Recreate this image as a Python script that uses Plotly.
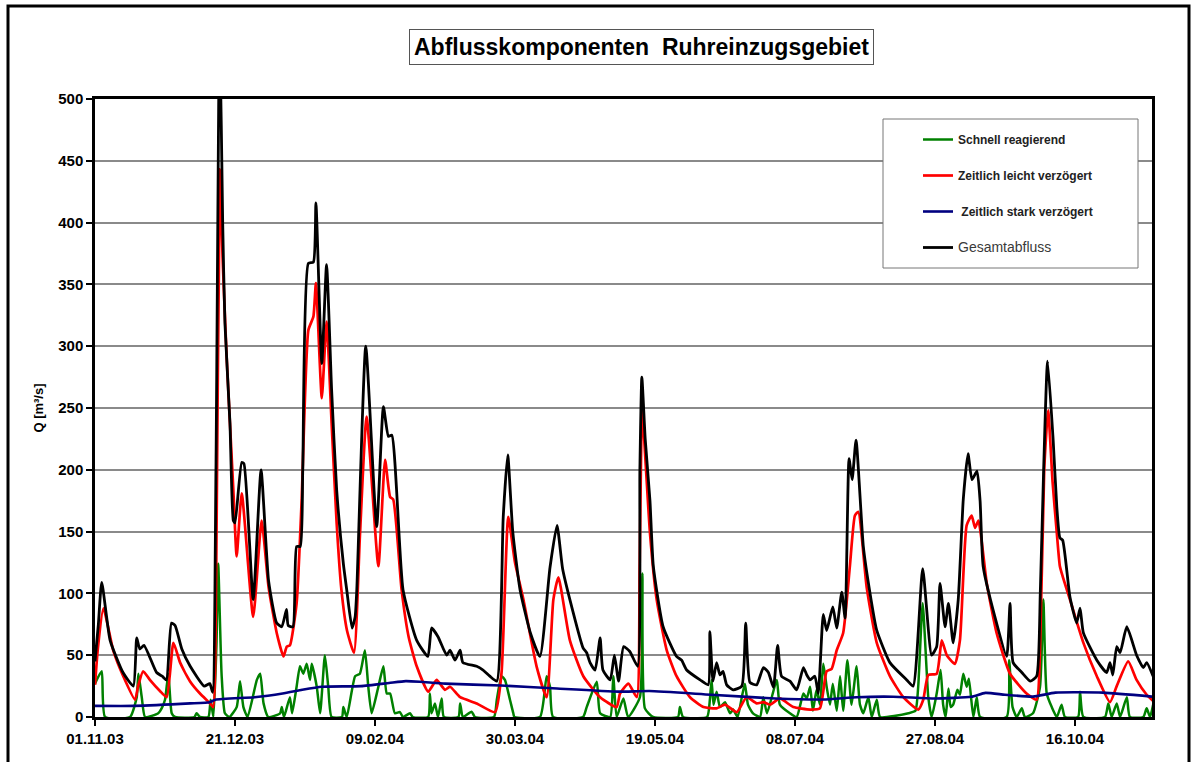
import pandas as pd
import plotly.graph_objects as go

# ---------------- data ----------------
start_date = "2003-11-01"
x_tick_labels = ["01.11.03", "21.12.03", "09.02.04", "30.03.04",
                 "19.05.04", "08.07.04", "27.08.04", "16.10.04"]
x_end_day = 377.5
y_tick_values = [0, 50, 100, 150, 200, 250, 300, 350, 400, 450, 500]

series_names = ["<b>Schnell reagierend</b>", "<b>Zeitlich leicht verzögert</b>",
                "<b> Zeitlich stark verzögert</b>",
                "<span style='font-size:14px;color:#3a3a3a'>Gesamtabfluss</span>"]

green_day = [0, 2.4, 3.6, 12.5, 14.9, 15.5, 16.7, 17.9, 22.6, 23.8, 25, 26.2, 27.4, 28.6, 35.5, 36.3, 37.5,
             40.5, 41.3, 42.3, 43.4, 44, 45.2, 46.4, 48, 50.6, 51.8, 53, 54.5, 57.8, 59, 60.2, 61.9, 66.1,
             66.7, 67.5, 69.6, 70.4, 72, 73.2, 74.4, 75.6, 76.8, 77.4, 79.2, 80.4, 82.1, 83.3, 84.5, 88.2,
             88.7, 89.9, 92.9, 94.6, 96.4, 97.6, 98.8, 101.2, 103, 104.2, 105.4, 107.1, 108.9, 110, 112.5,
             113.5, 119, 119.6, 120.2, 121.4, 122.5, 123.8, 124.6, 129.8, 130.4, 131.4, 134.5, 135.7, 142.5,
             143.5, 145.2, 146.4, 148.2, 149.4, 149.8, 158.9, 161.3, 162.5, 163.6, 174.3, 175.6, 179.2, 180.4,
             184, 185.1, 186.3, 188.7, 190.4, 194.6, 195.5, 196.4, 199.3, 208.2, 208.9, 210, 218.6, 219.6,
             220.2, 220.9, 222, 223.2, 225, 226.8, 227.9, 229.5, 231, 232.1, 233.2, 235, 237.5, 238.7, 240,
             243.5, 244.6, 248.2, 250.6, 253, 254.2, 255.4, 256.4, 257.7, 258.9, 260.1, 261.3, 262.5, 263.5,
             264.9, 266.1, 267.2, 268.7, 270.2, 272, 273.2, 274.4, 276.2, 277.4, 279.2, 280.4, 290.5, 293,
             294, 295.6, 297.6, 298.8, 300.6, 302, 302.9, 303.8, 304.8, 305.6, 306.5, 308, 308.9, 310.1,
             311.3, 312.1, 313.7, 314.9, 316.1, 325.6, 326.5, 327.7, 329.2, 331, 332.1, 335, 337.5, 338.7,
             339.9, 341.7, 343.5, 345.2, 346.4, 351.1, 351.8, 353, 360.7, 361.9, 363.1, 364.9, 366.1, 368.5,
             369.6, 374.4, 375.6, 376.8, 377.9]
green_q = [27, 37, 0, 0, 16, 35, 16, 0, 3, 7, 14, 35, 3, 0, 0, 3, 0,
           0, 14, 0, 60, 124, 35, 3, 0, 8, 29, 8, 0, 30, 35, 11, 0, 3,
           8, 0, 16, 3, 24.5, 41, 35, 43, 30, 43, 24.5, 3, 50, 24.5, 0, 0,
           8, 0, 33, 35, 54, 24.5, 3, 24.5, 41, 19, 19, 3, 4, 0, 3,
           0, 0, 19, 3, 11, 0, 15, 0, 0, 11, 0, 4.3, 0, 0,
           14, 33, 30, 14, 3, 0, 0, 33, 24.5, 0, 0, 8, 28.6, 3,
           0, 33, 0, 15, 0, 16, 116, 7, 0, 0, 8, 0, 0, 14,
           30, 10, 20.5, 8, 12, 3, 6, 0, 16, 27, 10, 3, 0, 16, 3,
           30, 10, 3, 0, 19, 15, 24.5, 5, 22, 10, 43, 24.5, 10, 27,
           5, 33, 5, 46, 10, 41, 10, 3, 16, 0, 14, 0, 3, 5,
           24.5, 92, 16, 0, 19, 38, 10, 0, 23, 8, 10, 22, 18, 35,
           24.5, 31, 0, 16, 0, 0, 46, 8, 0, 7, 0, 3, 24.5, 95,
           19, 8, 0, 10, 0, 0, 20.5, 0, 0, 11, 0, 11, 0, 16,
           0, 0, 7, 0, 10]

red_day = [0, 1, 3, 6.5, 10.1, 14.3, 15.4, 17.2, 19.6, 23.2, 25.6, 28, 30.4, 33.9, 37.5, 41.1, 42.2, 43.3,
           44.6, 45.6, 47, 49.4, 50.6, 52.4, 56.5, 59.5, 62, 64.9, 67.3, 68.5, 69.6, 72, 73.8, 76.2, 78,
           78.9, 81, 82.7, 84.5, 86.3, 88, 90, 92.5, 94.6, 97, 101.2, 103.6, 105.4, 106.5, 109.5, 112,
           114.9, 119, 122, 125, 126.8, 130.4, 136.3, 142.9, 145.2, 147.6, 150, 153, 157.7, 161.3, 163.7,
           165.5, 169.6, 174.4, 180.4, 186.3, 187.5, 190.5, 193.5, 194.5, 195.4, 196.8, 198.2, 200.6,
           204.2, 207.7, 212.5, 217.3, 222, 225, 229.2, 232.7, 236.3, 238.7, 241.1, 244.6, 249.4, 255.4,
           258.9, 261.3, 263.1, 264.9, 267.2, 269.6, 271.4, 272.6, 275.6, 279.2, 283.9, 288.7, 294, 295.8,
           297.6, 300.6, 302.4, 304.2, 307.1, 308.9, 311.3, 313.1, 314.3, 315.5, 318.5, 322, 326.8, 332.7,
           336.3, 337.5, 339, 340.4, 342, 343.5, 344.6, 345.7, 348.2, 353, 357.8, 362.5, 364.9, 369, 372,
           375.6, 377.9]
red_q = [26, 55, 88, 54, 33, 14, 25, 37, 30, 21, 16, 60, 44, 29, 19, 11, 8, 120,
         443, 370, 292, 184, 130, 181, 81, 159, 105, 68, 49, 57, 58, 92, 175, 313, 324,
         351, 258, 320, 238, 157, 103, 70, 52, 146, 243, 122, 208, 178, 176, 103, 65,
         41, 20.5, 30, 22, 24.5, 16, 11, 4, 36, 162, 125, 95, 41, 16, 95,
         113, 62, 33, 16, 8, 19, 27, 16, 120, 248, 200, 149, 95,
         54, 33, 16, 8, 7, 10, 4, 16, 11, 12, 10, 15, 8, 6,
         7, 37, 39, 54, 68, 122, 163, 166, 105, 60, 33, 16, 6, 14,
         34, 35, 62, 50, 43, 62, 155, 163, 153, 159, 108, 68, 35, 19,
         14, 54, 200, 248, 190, 149, 122, 113, 95, 60, 33, 12, 25, 45, 30,
         18, 13]

blue_day = [0, 14, 34, 41, 43, 57, 67, 74, 81, 95, 105, 111, 116, 125, 145, 165, 187, 198, 220,
            243, 260, 272, 285, 300, 313, 318, 325, 335, 343, 360, 378]
blue_q = [9, 9, 11, 12, 14, 16, 19, 22, 24.5, 25, 27.5, 29, 28.5, 27, 25.5, 23, 20.5, 21, 18,
          15, 14.2, 16, 16.4, 15, 16.4, 19.5, 18, 16.5, 19.7, 19.7, 16.4]

black_day = [0, 1.2, 2.4, 5.4, 10, 13.7, 14.9, 16, 17.5, 22, 24, 25.5, 27.3, 28.6, 31, 34, 39, 41, 42,
             43.2, 44.5, 45.6, 46.4, 48.2, 49.4, 50, 52.4, 53.2, 56.5, 59.3, 62, 64.9, 66.7, 68.4, 69,
             70.7, 72, 73.3, 74.2, 76.2, 78, 78.9, 81, 82.7, 84.5, 86.3, 88.7, 89.9, 91.8, 92.9, 93.5,
             96.7, 100.6, 103, 104.8, 106, 110, 114.9, 118.9, 120.2, 122.5, 125.6, 126.8, 128.6, 130.4,
             131.4, 136.3, 138.6, 141, 143.5, 145.8, 147.4, 149.2, 151.8, 155.5, 158.9, 162.5, 165, 167,
             169.6, 174.3, 175.6, 176.8, 178.6, 180.4, 181.4, 184, 185.5, 187, 188.8, 191, 193.8, 194.6,
             195.3, 196.5, 198.2, 199.4, 202.9, 207.7, 209.5, 211.3, 216.1, 219, 219.6, 220.7, 222, 223.2,
             224.3, 225.6, 227.9, 231, 232.4, 233.9, 236.3, 238.7, 240.5, 242.3, 243.8, 245.2, 248.2,
             250.6, 253, 254.2, 255.4, 257.1, 258.3, 260.1, 261.3, 263.5, 264.9, 266.7, 267.9, 269.3,
             270.4, 271.8, 274.4, 276.8, 279.2, 283.9, 289.9, 292.2, 295.6, 298.8, 300.6, 301.8, 303.6,
             304.8, 306.5, 308.3, 310.1, 311.8, 313.2, 315, 316.1, 317.2, 321.4, 325.6, 326.8, 327.9, 331,
             334, 336.3, 337.6, 338.8, 340.2, 342.2, 343.5, 344.6, 345.6, 348.2, 350.6, 351.8, 353, 357.8,
             361.3, 362.5, 363.5, 364.9, 366.1, 368.5, 372, 374.4, 375.6, 377.9]
black_q = [45, 75, 109, 62, 36, 25, 64, 55, 58, 36, 33, 30, 76, 74, 55, 41, 25, 27, 20,
           200, 560, 400, 319, 238, 159, 157, 206, 205, 95, 200, 110, 76, 73, 87, 74,
           73, 138, 138, 200, 367, 368, 416, 286, 366, 265, 184, 124, 103, 72, 81, 103,
           300, 154, 251, 227, 228, 103, 62, 49, 72, 65, 50, 54, 46, 54,
           44, 41, 38, 33, 29, 162, 212, 150, 103, 68, 49, 121, 155, 120,
           95, 56, 52, 44, 38, 64, 38, 30, 50, 29, 57, 53, 41, 200,
           275, 225, 175, 122, 73, 49, 46, 38, 30, 26, 69, 29, 44, 34,
           37, 26, 22, 25, 76, 28, 26, 40, 36, 24, 58, 33, 29,
           22, 40, 34, 30, 33, 19, 83, 70, 89, 72, 101, 80, 209,
           192, 224, 138, 100, 70, 44, 30, 25, 120, 50, 57, 108, 73,
           92, 60, 95, 176, 213, 192, 199, 175, 122, 81, 49, 92, 44, 36,
           29, 33, 100, 200, 288, 224, 170, 145, 143, 97, 76, 88, 68, 46,
           36, 44, 34, 57, 52, 73, 50, 40, 44, 33]

# ---------------- build ----------------
t0 = pd.Timestamp(start_date)


def to_dates(days):
    return [t0 + pd.Timedelta(days=d) for d in days]


tick_dates = [pd.to_datetime(s, format="%d.%m.%y") for s in x_tick_labels]

# plot-area geometry in pixels (figure 1196 x 762)
W, H = 1196, 762
L, R, T, B = 95, 1152, 99, 717


def px(x):
    return (x - L) / (R - L)


def py(y):
    return (B - y) / (B - T)


FONT = "Arial, Liberation Sans, Helvetica, sans-serif"

fig = go.Figure()
series = [
    (green_day, green_q, "#008000", 2.5),
    (red_day, red_q, "#ff0000", 2.7),
    (blue_day, blue_q, "#000080", 2.6),
    (black_day, black_q, "#000000", 2.8),
]
for i, (d, q, col, w) in enumerate(series):
    fig.add_trace(go.Scatter(
        x=to_dates(d), y=q, mode="lines", name=series_names[i],
        line=dict(color=col, width=w, shape="spline", smoothing=0.5),
        legendgroup=f"g{i}",
    ))

fig.update_layout(
    width=W, height=H,
    margin=dict(l=L, r=W - R, t=T, b=H - B),
    paper_bgcolor="white", plot_bgcolor="white",
    font=dict(family=FONT, color="black"),
    showlegend=True,
    legend=dict(
        x=px(918), y=py(125), xanchor="left", yanchor="top",
        bgcolor="rgba(0,0,0,0)", borderwidth=0,
        font=dict(family=FONT, size=12, color="#222"),
        tracegroupgap=17, itemwidth=30,
    ),
    xaxis=dict(
        type="date",
        range=[t0, t0 + pd.Timedelta(days=x_end_day)],
        tickvals=tick_dates, ticktext=[f"<b>{s}</b>" for s in x_tick_labels],
        ticks="outside", ticklen=6, tickwidth=1.5, tickcolor="black",
        tickfont=dict(family=FONT, size=15, color="black"),
        showgrid=False, zeroline=False,
        showline=True, linecolor="black", linewidth=3, mirror=True,
    ),
    yaxis=dict(
        range=[0, 500], tickvals=y_tick_values,
        ticktext=[f"<b>{v}</b>" for v in y_tick_values],
        ticks="outside", ticklen=6, tickwidth=1.5, tickcolor="black",
        tickfont=dict(family=FONT, size=15, color="black"),
        showgrid=True, gridcolor="#8a8a8a", gridwidth=1.6,
        zeroline=False,
        showline=True, linecolor="black", linewidth=2.5, mirror=True,
        title=dict(text="<b>Q [m³/s]</b>", font=dict(family=FONT, size=13, color="black"),
                   standoff=12),
    ),
)

# title in a framed box
fig.add_annotation(
    x=px(641), y=py(47), xref="paper", yref="paper",
    xanchor="center", yanchor="middle",
    text="<b>Abflusskomponenten&nbsp; Ruhreinzugsgebiet</b>",
    showarrow=False, font=dict(family=FONT, size=23, color="black"),
    bordercolor="#555555", borderwidth=1, borderpad=4, bgcolor="white",
)

# legend frame
fig.add_shape(type="rect", xref="paper", yref="paper",
              x0=px(883), x1=px(1138), y0=py(268), y1=py(119),
              line=dict(color="#777777", width=1), fillcolor="white", layer="above")

# outer frame of the picture
fig.add_shape(type="rect", xref="paper", yref="paper",
              x0=px(8), x1=px(1189), y0=py(790), y1=py(6),
              line=dict(color="black", width=3), fillcolor="rgba(0,0,0,0)", layer="above")

fig.write_html("out.html", config={"displayModeBar": False},
               post_script="document.body.style.margin='0';")
